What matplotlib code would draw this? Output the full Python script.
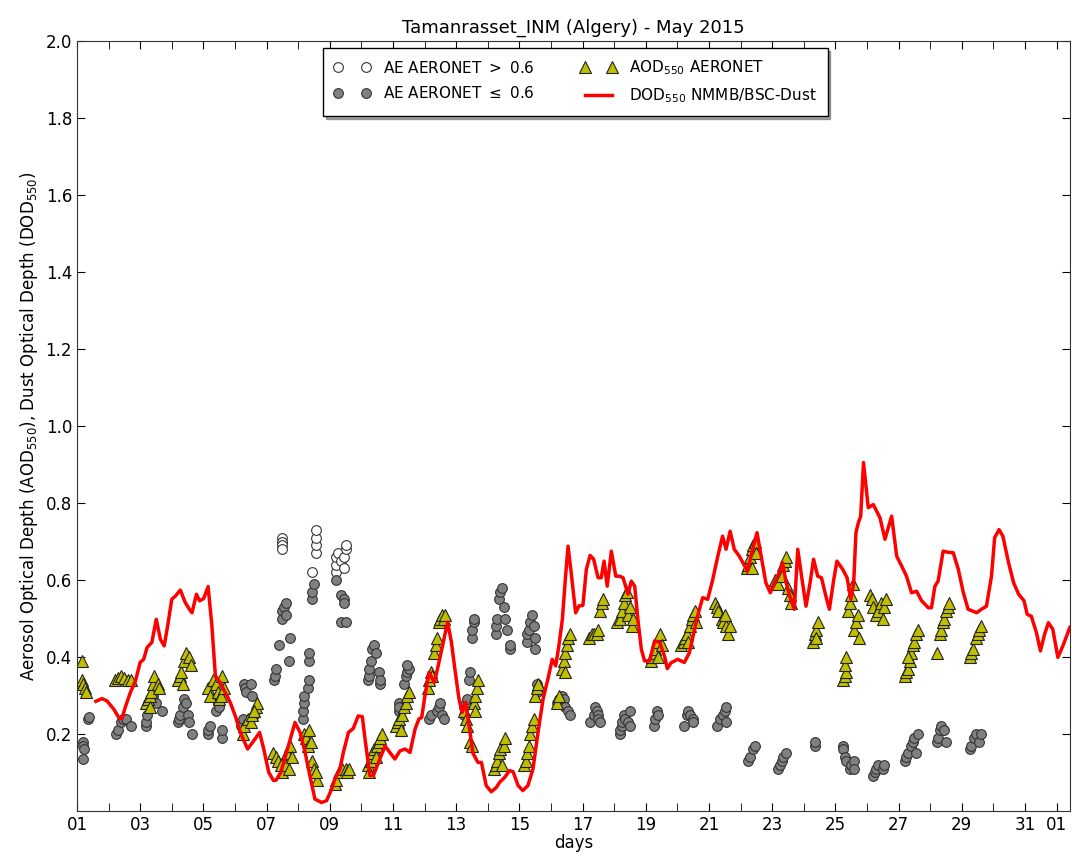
"""
Tamanrasset AOD / AE / model DOD, May 2015
"""

import numpy as np
import pandas as pd
import matplotlib
matplotlib.use('Agg')
import matplotlib.pyplot as plt
import matplotlib.dates as mdates

#
#  Model DOD550 (NMMB/BSC-Dust), day of month (fractional) and value
#

dod_day = [1.60, 1.79, 1.95, 2.16, 2.32, 2.42, 2.53, 2.69, 2.85, 3.00, 3.11, 3.22,
           3.37, 3.51, 3.64, 3.76, 3.87, 4.00, 4.11, 4.27, 4.43, 4.59, 4.64, 4.78,
           4.88, 5.01, 5.15, 5.27, 5.38, 5.53, 5.69, 5.85, 6.01, 6.17, 6.40, 6.59,
           6.78, 6.91, 7.07, 7.22, 7.30, 7.45, 7.69, 7.90, 8.06, 8.22, 8.37, 8.53,
           8.74, 8.90, 9.06, 9.16, 9.32, 9.43, 9.59, 9.74, 9.90, 10.03, 10.13, 10.27,
           10.38, 10.54, 10.75, 10.90, 11.06, 11.22, 11.38, 11.54, 11.70, 11.82, 11.91,
           12.01, 12.14, 12.31, 12.43, 12.59, 12.73, 12.85, 12.96, 13.09, 13.19, 13.30,
           13.44, 13.53, 13.69, 13.80, 13.95, 14.11, 14.27, 14.37, 14.53, 14.69, 14.80,
           14.96, 15.11, 15.27, 15.43, 15.59, 15.75, 15.90, 16.04, 16.15, 16.25, 16.36,
           16.47, 16.54, 16.64, 16.78, 16.89, 17.01, 17.12, 17.24, 17.35, 17.49, 17.59,
           17.68, 17.78, 17.91, 18.05, 18.17, 18.28, 18.44, 18.54, 18.65, 18.75, 18.86,
           18.96, 19.12, 19.28, 19.44, 19.60, 19.68, 19.80, 20.01, 20.22, 20.38, 20.64,
           20.80, 20.96, 21.12, 21.28, 21.43, 21.54, 21.67, 21.80, 21.96, 22.10, 22.22,
           22.38, 22.52, 22.67, 22.80, 22.94, 23.07, 23.22, 23.33, 23.44, 23.59, 23.70,
           23.81, 23.93, 24.07, 24.20, 24.31, 24.44, 24.56, 24.70, 24.81, 24.95, 25.05,
           25.23, 25.37, 25.49, 25.58, 25.65, 25.73, 25.80, 25.89, 26.04, 26.20, 26.41,
           26.57, 26.78, 26.94, 27.10, 27.25, 27.41, 27.57, 27.73, 27.94, 28.04, 28.15,
           28.25, 28.41, 28.57, 28.73, 28.89, 29.05, 29.20, 29.36, 29.47, 29.62, 29.78,
           29.94, 30.04, 30.18, 30.30, 30.48, 30.64, 30.80, 30.97, 31.07, 31.20, 31.36,
           31.49, 31.62, 31.74, 31.88, 32.04, 32.20, 32.42]

dod_val = [0.285, 0.292, 0.286, 0.265, 0.243, 0.239, 0.270, 0.308, 0.338, 0.386, 0.394, 0.425,
           0.438, 0.498, 0.446, 0.429, 0.481, 0.550, 0.558, 0.574, 0.541, 0.520, 0.515, 0.563,
           0.546, 0.552, 0.583, 0.481, 0.351, 0.334, 0.308, 0.282, 0.247, 0.204, 0.161, 0.182,
           0.204, 0.161, 0.100, 0.079, 0.080, 0.100, 0.169, 0.230, 0.204, 0.152, 0.092, 0.031,
           0.022, 0.027, 0.057, 0.083, 0.109, 0.152, 0.204, 0.214, 0.247, 0.245, 0.178, 0.092,
           0.092, 0.126, 0.169, 0.152, 0.135, 0.156, 0.161, 0.152, 0.213, 0.239, 0.243,
           0.299, 0.360, 0.334, 0.377, 0.438, 0.491, 0.438, 0.368, 0.291, 0.256, 0.282,
           0.204, 0.150, 0.126, 0.126, 0.066, 0.050, 0.061, 0.074, 0.087, 0.105, 0.102,
           0.066, 0.053, 0.066, 0.109, 0.204, 0.291, 0.342, 0.394, 0.377, 0.429, 0.498,
           0.619, 0.688, 0.619, 0.515, 0.533, 0.534, 0.628, 0.664, 0.654, 0.606, 0.606,
           0.649, 0.584, 0.675, 0.610, 0.610, 0.606, 0.563, 0.597, 0.584, 0.498, 0.420,
           0.390, 0.390, 0.442, 0.438, 0.400, 0.370, 0.385, 0.394, 0.386, 0.411, 0.507,
           0.554, 0.550, 0.602, 0.662, 0.714, 0.680, 0.727, 0.680, 0.662, 0.641, 0.623,
           0.680, 0.723, 0.654, 0.593, 0.567, 0.593, 0.619, 0.645, 0.593, 0.550, 0.524,
           0.680, 0.610, 0.532, 0.593, 0.654, 0.610, 0.606, 0.558, 0.524, 0.602, 0.649,
           0.628, 0.606, 0.550, 0.593, 0.723, 0.750, 0.765, 0.905, 0.788, 0.796, 0.762,
           0.706, 0.766, 0.662, 0.636, 0.610, 0.567, 0.571, 0.546, 0.528, 0.528, 0.584,
           0.597, 0.675, 0.672, 0.671, 0.628, 0.567, 0.524, 0.519, 0.515, 0.524, 0.532,
           0.610, 0.710, 0.731, 0.714, 0.645, 0.593, 0.563, 0.546, 0.511, 0.506, 0.464,
           0.416, 0.459, 0.489, 0.472, 0.399, 0.429, 0.477]

#
#  AERONET AOD550
#

aod_day = [1.15, 1.15, 1.20, 1.25, 1.30,
           2.20, 2.30, 2.40, 2.50, 2.60, 2.70,
           3.20, 3.25, 3.30, 3.35, 3.40, 3.45, 3.55, 3.60, 3.30,
           4.20, 4.25, 4.30, 4.40, 4.45, 4.55, 4.60, 4.35,
           5.15, 5.20, 5.30, 5.40, 5.45, 5.50, 5.55, 5.60, 5.65,
           6.25, 6.30, 6.40, 6.50, 6.55, 6.65, 6.70, 6.60,
           7.20, 7.30, 7.35, 7.45, 7.50, 7.60, 7.65, 7.75, 7.80, 7.70,
           8.20, 8.25, 8.30, 8.35, 8.40, 8.45, 8.50, 8.60, 8.55,
           9.15, 9.20, 9.30, 9.40, 9.50, 9.55, 9.60,
           10.20, 10.25, 10.30, 10.35, 10.40, 10.50, 10.55, 10.60, 10.65, 10.45,
           11.10, 11.15, 11.20, 11.30, 11.35, 11.40, 11.45, 11.50, 11.25,
           12.10, 12.15, 12.20, 12.25, 12.30, 12.35, 12.40, 12.45, 12.50, 12.55, 12.60, 12.65,
           13.25, 13.30, 13.35, 13.45, 13.50, 13.55, 13.60, 13.65, 13.70, 13.60,
           14.20, 14.25, 14.30, 14.35, 14.40, 14.50, 14.55, 14.45,
           15.15, 15.20, 15.25, 15.30, 15.35, 15.40, 15.45, 15.50, 15.55, 15.60,
           16.20, 16.25, 16.35, 16.40, 16.45, 16.50, 16.55, 16.60, 16.45,
           17.20, 17.30, 17.35, 17.45, 17.55, 17.60, 17.65, 17.50,
           18.10, 18.20, 18.25, 18.30, 18.35, 18.40, 18.45, 18.50, 18.55, 18.60,
           19.15, 19.20, 19.25, 19.30, 19.35, 19.45, 19.50, 19.40,
           20.10, 20.20, 20.25, 20.30, 20.40, 20.45, 20.50, 20.55, 20.60, 20.35,
           21.20, 21.25, 21.30, 21.40, 21.45, 21.55, 21.60, 21.65, 21.50,
           22.20, 22.25, 22.30, 22.35, 22.40, 22.45, 22.50, 22.35,
           23.10, 23.20, 23.30, 23.35, 23.40, 23.45, 23.50, 23.55, 23.60,
           24.30, 24.35, 24.40, 24.45, 24.40,
           25.25, 25.30, 25.35, 25.30, 25.35, 25.40, 25.45, 25.50, 25.55, 25.60, 25.65, 25.70, 25.75,
           26.10, 26.15, 26.20, 26.30, 26.35, 26.45, 26.50, 26.55, 26.60,
           27.20, 27.25, 27.30, 27.35, 27.40, 27.45, 27.50, 27.55, 27.60, 27.30,
           28.20, 28.30, 28.35, 28.40, 28.45, 28.50, 28.55, 28.60,
           29.25, 29.30, 29.35, 29.45, 29.50, 29.55, 29.60]

aod_val = [0.39, 0.34, 0.33, 0.32, 0.31,
           0.34, 0.345, 0.35, 0.345, 0.34, 0.34,
           0.28, 0.29, 0.30, 0.31, 0.33, 0.35, 0.33, 0.32, 0.27,
           0.34, 0.35, 0.36, 0.39, 0.41, 0.40, 0.38, 0.33,
           0.32, 0.30, 0.34, 0.33, 0.31, 0.29, 0.30, 0.35, 0.32,
           0.20, 0.22, 0.24, 0.23, 0.25, 0.27, 0.28, 0.26,
           0.15, 0.14, 0.13, 0.12, 0.10, 0.12, 0.15, 0.17, 0.14, 0.11,
           0.20, 0.19, 0.17, 0.21, 0.18, 0.13, 0.11, 0.08, 0.10,
           0.07, 0.08, 0.10, 0.11, 0.11, 0.10, 0.11,
           0.12, 0.10, 0.13, 0.15, 0.16, 0.17, 0.18, 0.19, 0.20, 0.14,
           0.22, 0.23, 0.24, 0.25, 0.27, 0.28, 0.30, 0.31, 0.21,
           0.32, 0.34, 0.36, 0.35, 0.41, 0.43, 0.45, 0.49, 0.50, 0.51, 0.50, 0.51,
           0.26, 0.24, 0.22, 0.18, 0.17, 0.28, 0.30, 0.32, 0.34, 0.26,
           0.11, 0.12, 0.13, 0.15, 0.16, 0.17, 0.19, 0.12,
           0.12, 0.13, 0.15, 0.17, 0.20, 0.22, 0.24, 0.30, 0.32, 0.33,
           0.28, 0.30, 0.37, 0.39, 0.41, 0.43, 0.45, 0.46, 0.36,
           0.45, 0.46, 0.46, 0.46, 0.52, 0.54, 0.55, 0.47,
           0.49, 0.50, 0.52, 0.54, 0.56, 0.57, 0.51, 0.53, 0.48, 0.50,
           0.39, 0.40, 0.41, 0.42, 0.44, 0.46, 0.43, 0.40,
           0.43, 0.44, 0.45, 0.46, 0.48, 0.50, 0.51, 0.52, 0.49, 0.44,
           0.54, 0.53, 0.52, 0.50, 0.49, 0.48, 0.46, 0.48, 0.51,
           0.63, 0.64, 0.66, 0.68, 0.69, 0.70, 0.67, 0.63,
           0.60, 0.59, 0.61, 0.64, 0.65, 0.66, 0.58, 0.56, 0.54,
           0.44, 0.46, 0.47, 0.49, 0.45,
           0.34, 0.35, 0.36, 0.38, 0.40, 0.52, 0.54, 0.56, 0.59, 0.47, 0.49, 0.51, 0.45,
           0.56, 0.55, 0.53, 0.51, 0.52, 0.54, 0.50, 0.53, 0.55,
           0.35, 0.36, 0.37, 0.39, 0.41, 0.43, 0.44, 0.46, 0.47, 0.40,
           0.41, 0.46, 0.47, 0.49, 0.50, 0.52, 0.53, 0.54,
           0.40, 0.41, 0.42, 0.45, 0.46, 0.47, 0.48]

#
#  AERONET Angstrom exponent
#

ae_day = [1.20, 1.20, 1.22, 1.20, 1.35, 1.37,
          2.25, 2.30, 2.40, 2.45, 2.55, 2.70,
          3.20, 3.20, 3.22, 3.25, 3.40, 3.45, 3.50, 3.70,
          4.20, 4.22, 4.25, 4.35, 4.40, 4.45, 4.50, 4.55, 4.65,
          5.15, 5.15, 5.20, 5.40, 5.45, 5.50, 5.60, 5.60, 5.50,
          6.20, 6.25, 6.30, 6.32, 6.35, 6.50, 6.55, 6.60,
          7.25, 7.27, 7.30, 7.40, 7.50, 7.50, 7.55, 7.60, 7.60, 7.70, 7.75,
          7.50, 7.50, 7.50, 7.50,
          8.15, 8.15, 8.20, 8.20, 8.30, 8.35, 8.35, 8.35, 8.45, 8.45, 8.50,
          8.45, 8.55, 8.55, 8.55, 8.55,
          9.20, 9.20, 9.20, 9.25, 9.35, 9.45, 9.45, 9.50, 9.50,
          9.20, 9.35, 9.45, 9.45, 9.35, 9.50,
          10.20, 10.25, 10.25, 10.30, 10.35, 10.40, 10.45, 10.55, 10.60, 10.60,
          11.20, 11.20, 11.20, 11.35, 11.40, 11.45, 11.50, 11.45,
          12.15, 12.20, 12.40, 12.45, 12.50, 12.55, 12.60,
          13.25, 13.25, 13.30, 13.35, 13.40, 13.45, 13.50, 13.50, 13.55, 13.55,
          14.25, 14.25, 14.30, 14.35, 14.40, 14.45, 14.50, 14.55, 14.60, 14.70, 14.70,
          15.25, 15.25, 15.30, 15.35, 15.40, 15.45, 15.50, 15.50, 15.55, 15.60, 15.55,
          16.20, 16.25, 16.35, 16.40, 16.45, 16.55, 16.60,
          17.25, 17.35, 17.40, 17.45, 17.50, 17.50, 17.55,
          18.20, 18.20, 18.25, 18.25, 18.30, 18.35, 18.45, 18.50, 18.50,
          19.25, 19.30, 19.35, 19.40,
          20.20, 20.30, 20.35, 20.40, 20.50, 20.50,
          21.25, 21.35, 21.45, 21.50, 21.55, 21.55,
          22.25, 22.30, 22.40, 22.45,
          23.20, 23.25, 23.30, 23.35, 23.45,
          24.35, 24.35,
          25.25, 25.25, 25.30, 25.35, 25.45, 25.50, 25.60, 25.60,
          26.20, 26.25, 26.30, 26.35, 26.50, 26.55,
          27.20, 27.25, 27.30, 27.40, 27.45, 27.50, 27.55, 27.60,
          28.20, 28.25, 28.30, 28.35, 28.45, 28.50,
          29.25, 29.30, 29.40, 29.45, 29.55, 29.60]

ae_val = [0.18, 0.17, 0.16, 0.135, 0.24, 0.245,
          0.20, 0.21, 0.23, 0.24, 0.24, 0.22,
          0.22, 0.23, 0.25, 0.28, 0.30, 0.32, 0.28, 0.26,
          0.23, 0.24, 0.25, 0.27, 0.29, 0.28, 0.25, 0.23, 0.20,
          0.20, 0.21, 0.22, 0.26, 0.28, 0.30, 0.19, 0.21, 0.27,
          0.22, 0.24, 0.33, 0.32, 0.31, 0.33, 0.30, 0.25,
          0.34, 0.35, 0.37, 0.43, 0.52, 0.50, 0.53, 0.54, 0.51, 0.39, 0.45,
          0.71, 0.70, 0.69, 0.68,
          0.24, 0.26, 0.28, 0.30, 0.32, 0.34, 0.39, 0.41, 0.55, 0.57, 0.59,
          0.62, 0.67, 0.69, 0.71, 0.73,
          0.62, 0.64, 0.66, 0.67, 0.65, 0.63, 0.66, 0.68, 0.69,
          0.60, 0.56, 0.55, 0.54, 0.49, 0.49,
          0.34, 0.35, 0.37, 0.39, 0.42, 0.43, 0.41, 0.36, 0.33, 0.34,
          0.28, 0.26, 0.27, 0.33, 0.35, 0.36, 0.37, 0.38,
          0.24, 0.25, 0.26, 0.27, 0.28, 0.25, 0.24,
          0.25, 0.27, 0.28, 0.29, 0.34, 0.36, 0.45, 0.47, 0.49, 0.50,
          0.46, 0.48, 0.50, 0.55, 0.57, 0.58, 0.53, 0.50, 0.47, 0.42, 0.43,
          0.44, 0.46, 0.47, 0.49, 0.51, 0.48, 0.45, 0.42, 0.31, 0.32, 0.33,
          0.28, 0.29, 0.30, 0.29, 0.27, 0.26, 0.25,
          0.23, 0.25, 0.27, 0.26, 0.25, 0.24, 0.23,
          0.20, 0.21, 0.22, 0.23, 0.25, 0.24, 0.23, 0.22, 0.26,
          0.22, 0.24, 0.26, 0.25,
          0.22, 0.25, 0.26, 0.25, 0.24, 0.23,
          0.22, 0.24, 0.25, 0.26, 0.27, 0.23,
          0.13, 0.14, 0.16, 0.17,
          0.11, 0.12, 0.13, 0.14, 0.15,
          0.17, 0.18,
          0.17, 0.16, 0.14, 0.13, 0.11, 0.12, 0.13, 0.11,
          0.09, 0.10, 0.11, 0.12, 0.11, 0.12,
          0.13, 0.14, 0.15, 0.17, 0.18, 0.19, 0.15, 0.20,
          0.18, 0.19, 0.21, 0.22, 0.21, 0.18,
          0.16, 0.17, 0.19, 0.20, 0.18, 0.20]

#
#  Convert day-of-month to timestamps
#

start = pd.Timestamp('2015-05-01')

def to_time(days):
    return start + pd.to_timedelta(np.array(days) - 1.0, unit='D')

dod_t = to_time(dod_day)
aod_t = to_time(aod_day)
ae_t = to_time(ae_day)
ae_val = np.array(ae_val)
high = ae_val > 0.6

#%%
#
#  Plot
#

fig = plt.figure(figsize=(10.72, 8.58), dpi=100)
ax = fig.add_axes([0.0718, 0.0548, 0.9262, 0.8972])

h_hi, = ax.plot(ae_t[high], ae_val[high], 'o', ms=7, mfc='white', mec='#333333', mew=0.8)
h_lo, = ax.plot(ae_t[~high], ae_val[~high], 'o', ms=7, mfc='#808080', mec='#333333', mew=0.8)
h_aod, = ax.plot(aod_t, aod_val, '^', ms=8, mfc=(0.75, 0.75, 0.0), mec='#222222', mew=0.8)
h_dod, = ax.plot(dod_t, dod_val, '-', color='red', lw=2.5)

ax.set_xlim(start, start + pd.Timedelta(days=31.42))
ax.set_ylim(0.0, 2.0)
ax.set_yticks(np.arange(0.2, 2.01, 0.2))

ax.xaxis.set_major_locator(mdates.DayLocator(bymonthday=range(1, 32, 2)))
ax.xaxis.set_minor_locator(mdates.DayLocator())
ax.xaxis.set_major_formatter(mdates.DateFormatter('%d'))

ax.tick_params(which='both', direction='in', top=True, right=True, labelsize=12)
ax.tick_params(which='major', length=6)
ax.tick_params(which='minor', length=6)
for s in ax.spines.values():
    s.set_color('#333333')

ax.set_title('Tamanrasset_INM (Algery) - May 2015', fontsize=13)
ax.set_xlabel('days', fontsize=12, labelpad=0)
ax.set_ylabel('Aerosol Optical Depth (AOD$_{550}$), Dust Optical Depth (DOD$_{550}$)',
              fontsize=12)

leg = ax.legend([h_hi, h_lo, h_aod, h_dod],
                ['AE AERONET $>$ 0.6', 'AE AERONET $\\leq$ 0.6',
                 'AOD$_{550}$ AERONET', 'DOD$_{550}$ NMMB/BSC-Dust'],
                loc='upper center', bbox_to_anchor=(0.502, 1.0), ncol=2, numpoints=2,
                fontsize=11, shadow=True, fancybox=False, framealpha=1,
                handlelength=2.4, columnspacing=3.0, labelspacing=0.6,
                borderpad=0.7, borderaxespad=0.45)
leg.get_frame().set_edgecolor('black')

fig.savefig('out.png', dpi=100)
